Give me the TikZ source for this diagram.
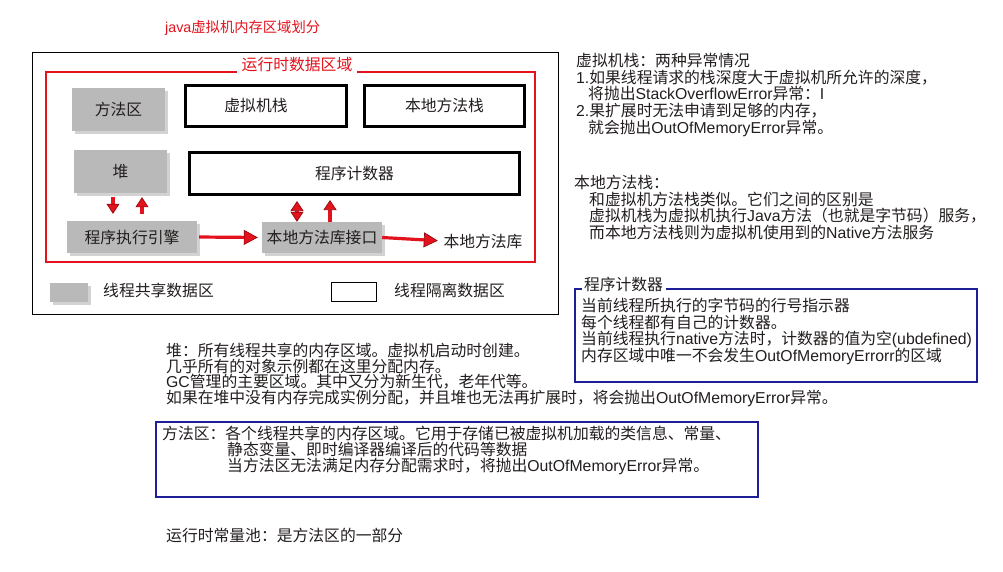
\documentclass[tikz,border=0pt]{standalone}
\usepackage{fontspec}
\setmainfont{Noto Sans CJK SC}
\newfontfamily\latf{Liberation Sans}
\newcommand\en[1]{{\latf #1}}
\usetikzlibrary{shadows,arrows.meta}
\definecolor{txt}{RGB}{35,30,30}
\definecolor{rd}{RGB}{228,18,28}
\definecolor{drd}{RGB}{150,10,15}
\definecolor{bl}{RGB}{30,30,150}
\definecolor{gbox}{RGB}{185,185,185}
\tikzset{
  shared/.style={rectangle, fill=gbox, inner sep=0pt,
    drop shadow={shadow xshift=2.5pt, shadow yshift=-2.5pt, opacity=0.35}},
  private/.style={rectangle, draw=black, line width=3pt, inner sep=0pt},
  bluebox/.style={rectangle, draw=bl, line width=1.2pt, inner sep=0pt},
  txtblock/.style={anchor=north west, align=left, inner sep=0pt},
  plain/.style={inner sep=0pt},
  redarrow/.style={draw=rd, line width=3.2pt, -{Triangle[length=14pt,width=15pt,color=drd,fill=rd,line width=0.7pt]}},
  shortarrow/.style={draw=rd, line width=3.4pt, -{Triangle[length=10pt,width=13pt,color=drd,fill=rd,line width=0.7pt]}}
}
\begin{document}
\begin{tikzpicture}[x=1pt,y=-1pt,font=\fontsize{15.8}{16.7}\selectfont,text=txt]
\useasboundingbox (0,0) rectangle (1003,571);
\fill[white] (0,0) rectangle (1003,571);

% title
\node[plain, anchor=west, text=rd, font=\fontsize{14.3}{16}\selectfont] (title) at (165,28) {\en{java}虚拟机内存区域划分};

% frames
\node[draw=black, line width=1pt, minimum width=526pt, minimum height=262pt, inner sep=0pt] (outer) at (295,183) {};
\node[draw=rd, line width=2.5pt, minimum width=489pt, minimum height=190pt, inner sep=0pt] (rt) at (290.5,167) {};
\node[fill=white, text=rd, inner xsep=5pt, inner ysep=1pt] (rtlabel) at (297,65) {运行时数据区域};

% shared areas
\node[shared, minimum width=93pt, minimum height=43pt] (ma) at (118.5,109.5) {方法区};
\node[shared, minimum width=93pt, minimum height=43pt] (heap) at (120.5,171.5) {堆};
\node[shared, minimum width=130pt, minimum height=32pt] (engine) at (132,237) {程序执行引擎};
\node[shared, minimum width=120pt, minimum height=31pt] (jni) at (322,237.5) {本地方法库接口};

% private areas
\node[private, minimum width=161pt, minimum height=41pt] (vms) at (266,106) {\raisebox{2.5pt}{虚拟机栈}\hspace*{20pt}};
\node[private, minimum width=160pt, minimum height=41pt] (nms) at (444.5,106) {\raisebox{3pt}{本地方法栈}};
\node[private, minimum width=330pt, minimum height=42pt] (pc) at (354.5,173.5) {程序计数器};

\node[plain] (lib) at (483,241) {本地方法库};

% arrows
\draw[shortarrow, shorten <=4pt, shorten >=7pt] ([xshift=-7.5pt]heap.south) -- ([xshift=-7.5pt]heap.south |- engine.north);
\draw[shortarrow, shorten <=7pt, shorten >=4pt] ([xshift=10pt]engine.north) -- ([xshift=10pt]engine.north |- heap.south);
\draw[shortarrow, {Triangle[length=10pt,width=13pt,color=drd,fill=rd,line width=0.7pt]}-{Triangle[length=10pt,width=13pt,color=drd,fill=rd,line width=0.7pt]}, shorten >=5pt] ([xshift=-25pt]jni.north) -- ([xshift=-25pt]jni.north |- pc.south);
\draw[shortarrow, shorten >=4pt] ([xshift=8pt]jni.north) -- ([xshift=8pt]jni.north |- pc.south);
\draw[redarrow, shorten <=2pt, shorten >=4pt] (engine.east) -- (jni.west);
\draw[redarrow, shorten >=5.5pt] (jni.east) -- (lib.west);

% legend
\node[shared, minimum width=38pt, minimum height=19pt] (lg1) at (69,292.5) {};
\node[plain, anchor=west] (lg1t) at (103,290) {线程共享数据区};
\node[draw=black, line width=1pt, minimum width=45pt, minimum height=19pt, inner sep=0pt] (lg2) at (353.5,291.5) {};
\node[plain, anchor=west] (lg2t) at (394,290) {线程隔离数据区};

% right notes
\node[txtblock] (vmsnote) at (576,53) {虚拟机栈：两种异常情况\\
\en{1.}如果线程请求的栈深度大于虚拟机所允许的深度，\\
\hspace*{12pt}将抛出\en{StackOverflowError}异常：\en{I}\\
\en{2.}果扩展时无法申请到足够的内存，\\
\hspace*{12pt}就会抛出\en{OutOfMemoryError}异常。};

\node[txtblock] (nmsnote) at (574,175) {本地方法栈：\\
\hspace*{15pt}和虚拟机方法栈类似。它们之间的区别是\\
\hspace*{15pt}虚拟机栈为虚拟机执行\en{Java}方法（也就是字节码）服务，\\
\hspace*{15pt}而本地方法栈则为虚拟机使用到的\en{Native}方法服务};

% program counter note
\node[bluebox, minimum width=402pt, minimum height=93pt] (pcbox) at (776,335.5) {};
\node[fill=white, inner xsep=2.5pt, inner ysep=1pt] (pclabel) at (623.5,284) {程序计数器};
\node[txtblock] (pcnote) at (581,298) {当前线程所执行的字节码的行号指示器\\
每个线程都有自己的计数器。\\
当前线程执行\en{native}方法时，计数器的值为空\en{(ubdefined)}\\
内存区域中唯一不会发生\en{OutOfMemoryErrorr}的区域};

% heap note
\node[txtblock, font=\fontsize{15.8}{15.7}\selectfont] (heapnote) at (166,343) {堆：所有线程共享的内存区域。虚拟机启动时创建。\\
几乎所有的对象示例都在这里分配内存。\\
\en{GC}管理的主要区域。其中又分为新生代，老年代等。\\
如果在堆中没有内存完成实例分配，并且堆也无法再扩展时，将会抛出\en{OutOfMemoryError}异常。};

% method area note
\node[bluebox, minimum width=602pt, minimum height=75pt] (mabox) at (457,459.5) {};
\node[txtblock, font=\fontsize{15.8}{16}\selectfont] (manote) at (162,426) {方法区：各个线程共享的内存区域。它用于存储已被虚拟机加载的类信息、常量、\\
\hspace*{65pt}静态变量、即时编译器编译后的代码等数据\\
\hspace*{65pt}当方法区无法满足内存分配需求时，将抛出\en{OutOfMemoryError}异常。};

\node[plain, anchor=west] (pool) at (166,535) {运行时常量池：是方法区的一部分};
\end{tikzpicture}
\end{document}
